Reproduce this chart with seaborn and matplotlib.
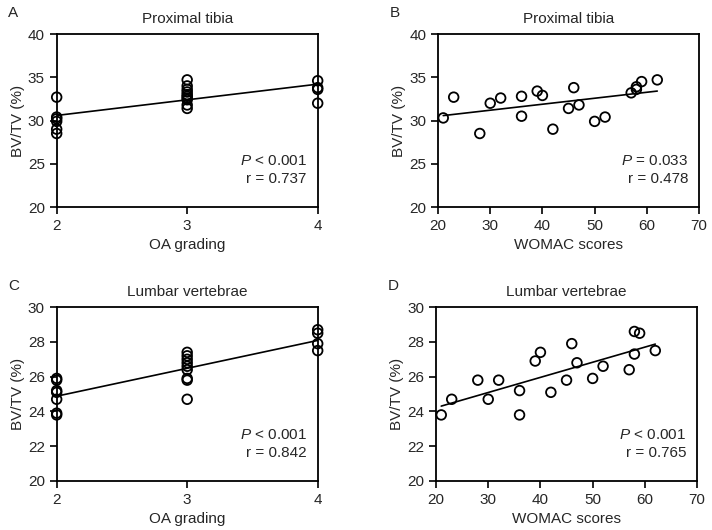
import numpy as np
import pandas as pd
import matplotlib
matplotlib.use("Agg")
import matplotlib.pyplot as plt
import seaborn as sns

# WOMAC scores (same patients in B and D)
womac = [21, 23, 28, 30, 32, 36, 36, 39, 40, 42, 45, 46, 47, 50, 52, 57, 58, 58, 59, 62]
tibia_womac = [30.3, 32.7, 28.5, 32.0, 32.6, 32.8, 30.5, 33.4, 32.9, 29.0,
               31.4, 33.8, 31.8, 29.9, 30.4, 33.2, 33.6, 33.9, 34.5, 34.7]
lumbar_womac = [23.8, 24.7, 25.8, 24.7, 25.8, 25.2, 23.8, 26.9, 27.4, 25.1,
                25.8, 27.9, 26.8, 25.9, 26.6, 26.4, 28.6, 27.3, 28.5, 27.5]

# OA grading panels
grade_a = [2] * 6 + [3] * 10 + [4] * 4
tibia_grade = [32.7, 30.4, 30.2, 29.9, 29.0, 28.5,
               34.7, 34.0, 33.6, 33.3, 33.0, 32.8, 32.6, 32.4, 31.8, 31.4,
               34.6, 33.8, 33.6, 32.0]
grade_c = [2] * 7 + [3] * 9 + [4] * 4
lumbar_grade = [25.9, 25.8, 25.2, 25.1, 24.7, 23.9, 23.8,
                27.4, 27.2, 27.0, 26.8, 26.6, 26.4, 25.9, 25.8, 24.7,
                28.7, 28.5, 27.9, 27.5]

sns.set_style("ticks")
plt.rcParams["font.family"] = ["Liberation Sans", "DejaVu Sans"]
plt.rcParams["mathtext.fontset"] = "custom"
plt.rcParams["mathtext.it"] = "Liberation Sans:italic"
plt.rcParams["mathtext.rm"] = "Liberation Sans"

fig = plt.figure(figsize=(7.12, 5.3), dpi=100)

panels = [
    # letter, rect, x, y, title, xlabel, xlim, xticks, ylim, yticks, P, r
    ("A", [0.0796, 0.6094, 0.3666, 0.3264], grade_a, tibia_grade, "Proximal tibia",
     "OA grading", (2, 4), [2, 3, 4], (20, 40), [20, 25, 30, 35, 40], "< 0.001", "0.737"),
    ("B", [0.6152, 0.6094, 0.3666, 0.3264], womac, tibia_womac, "Proximal tibia",
     "WOMAC scores", (20, 70), [20, 30, 40, 50, 60, 70], (20, 40), [20, 25, 30, 35, 40], "= 0.033", "0.478"),
    ("C", [0.0796, 0.0925, 0.3666, 0.328], grade_c, lumbar_grade, "Lumbar vertebrae",
     "OA grading", (2, 4), [2, 3, 4], (20, 30), [20, 22, 24, 26, 28, 30], "< 0.001", "0.842"),
    ("D", [0.6124, 0.0925, 0.3666, 0.328], womac, lumbar_womac, "Lumbar vertebrae",
     "WOMAC scores", (20, 70), [20, 30, 40, 50, 60, 70], (20, 30), [20, 22, 24, 26, 28, 30], "< 0.001", "0.765"),
]

for letter, rect, xs, ys, title, xlabel, xlim, xticks, ylim, yticks, ptxt, rtxt in panels:
    ax = fig.add_axes(rect)
    df = pd.DataFrame({"x": xs, "y": ys})
    sns.regplot(data=df, x="x", y="y", ax=ax, ci=None, color="black",
                scatter_kws=dict(facecolors="none", edgecolors="black", s=48, alpha=1,
                                 linewidths=1.3, clip_on=False, zorder=3),
                line_kws=dict(color="black", lw=1.2))
    ax.set_xlim(xlim)
    ax.set_ylim(ylim)
    ax.set_xticks(xticks)
    ax.set_yticks(yticks)
    ax.set_xlabel(xlabel, fontsize=11, labelpad=4)
    ax.set_ylabel("BV/TV (%)", fontsize=11, labelpad=2)
    ax.set_title(title, fontsize=11, pad=8)
    ax.tick_params(labelsize=11, length=5, width=1.2, color="black")
    for sp in ax.spines.values():
        sp.set_visible(True)
        sp.set_linewidth(1.3)
        sp.set_color("black")
    ax.text(0.958, 0.266, r"$\it{P}$ " + ptxt, transform=ax.transAxes,
            ha="right", va="center", fontsize=11)
    ax.text(0.958, 0.162, "r = " + rtxt, transform=ax.transAxes,
            ha="right", va="center", fontsize=11)
    fig.text(rect[0] - 0.068, rect[1] + rect[3] + 0.04, letter, fontsize=11,
             ha="left", va="center")

fig.savefig("out.png", dpi=100)
